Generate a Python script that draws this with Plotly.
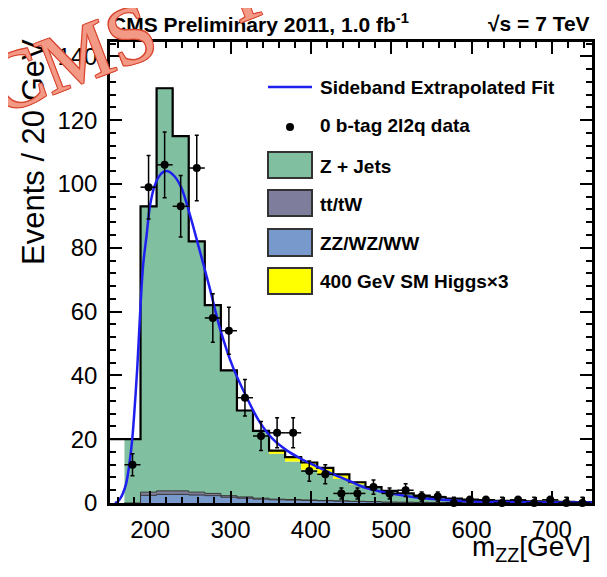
import numpy as np
import plotly.graph_objects as go

# ---------------- data ----------------
bin_edges = [168, 188, 208, 228, 248, 268, 288, 308, 328, 348, 368, 388, 408, 428, 448,
             468, 488, 508, 528, 548, 568, 588, 608, 628, 648, 668, 688, 708, 728, 748, 768]
zz_wz_ww = [0, 2.4, 2.7, 2.7, 2.5, 2.3, 1.8, 1.5, 1.2, 1.0, 0.9, 0.8, 0.7, 0.6, 0.5,
            0.4, 0.3, 0.25, 0.2, 0.15, 0.12, 0.1, 0.1, 0.1, 0.1, 0.08, 0.07, 0.07, 0.05, 0.05]
tt_tw = [0, 1.0, 1.1, 1.1, 0.9, 0.7, 0.5, 0.4, 0.3, 0.2, 0.2, 0.15, 0.1, 0.1, 0.05,
         0.05, 0, 0, 0, 0, 0, 0, 0, 0, 0, 0, 0, 0, 0, 0]
z_jets = [20, 89.6, 126.2, 111.2, 78.6, 59.0, 39.3, 27.1, 20.9, 14.2, 11.9, 9.45, 8.2, 6.8, 5.35,
          4.25, 3.4, 2.75, 2.1, 1.65, 1.28, 1.0, 0.8, 0.6, 0.5, 0.42, 0.33, 0.28, 0.25, 0.2]
higgs_x3 = [0, 0, 0, 0, 0, 0, 0, 0, 0.2, 1.0, 1.4, 2.3, 2.0, 1.5, 0.6,
            0.3, 0.1, 0, 0, 0, 0, 0, 0, 0, 0, 0, 0, 0, 0, 0]
outline_underflow_edge = 148
outline_underflow_value = 20

data_x = [178, 198, 218, 238, 258, 278, 298, 318, 338, 358, 378, 398, 418, 438, 458,
          478, 498, 518, 538, 558, 578, 598, 618, 638, 658, 678, 698, 718, 738]
data_n = [12, 99, 106, 93, 105, 58, 54, 33, 21, 22, 22, 10, 9, 3, 3,
          5, 3, 4, 2, 2, 0, 1, 1, 0, 1, 0, 1, 0, 0]

fit_x = [156, 160, 163, 166, 170, 174, 177.7, 181, 184, 188, 191.4, 195.6, 199.7, 205, 210,
         216, 222, 230, 239, 249.4, 261.8, 274, 286.6, 303, 319.8, 336, 352.8, 370, 386,
         406.7, 425, 448, 465, 485, 506, 527, 547, 568, 589, 620, 655, 700, 750]
fit_y = [0, 0.5, 1.5, 3, 6, 12, 20, 31, 42.6, 62, 75, 84, 93, 99, 102,
         103.7, 104, 102.5, 98.7, 90.4, 79, 67.5, 55, 42.6, 33.3, 25.5, 20, 16.5, 14.1,
         11.5, 9.3, 6.9, 5.0, 3.7, 2.7, 1.9, 1.35, 0.95, 0.65, 0.4, 0.28, 0.18, 0.12]

x_tick_vals = [200, 300, 400, 500, 600, 700]
y_tick_vals = [0, 20, 40, 60, 80, 100, 120, 140]

legend_labels = ["Sideband Extrapolated Fit", "0 b-tag 2l2q data", "Z + Jets",
                 "tt/tW", "ZZ/WZ/WW", "400 GeV SM Higgs\u00d73"]

# ---------------- style / layout ----------------
PAGE_OFF = 8                 # default body margin of the html page
FIG_W, FIG_H = 591, 561      # fits inside the 607x577 window with the body margin
L, R, T, B = 110, 592, 42, 503   # plot area in window pixels
FONT = "Liberation Sans, Arial, sans-serif"
C_GREEN = "#80c0a0"
C_TT = "#7e7e9c"
C_ZZ = "#7799cc"
C_HIGGS = "#ffff00"
C_FIT = "#1f1ff0"


def px(x):
    return (x - L) / (R - L)


def py(y):
    return (B - y) / (B - T)


def step_y(vals):
    return list(vals) + [vals[-1]]


fig = go.Figure()

layers = [(zz_wz_ww, C_ZZ, 1.0), (tt_tw, C_TT, 1.0), (z_jets, C_GREEN, 0.0), (higgs_x3, C_HIGGS, 1.0)]
for vals, col, lw in layers:
    fig.add_trace(go.Scatter(
        x=bin_edges, y=step_y(vals), mode="lines", line=dict(shape="hv", width=lw, color="#333333"),
        stackgroup="stack", fillcolor=col, hoverinfo="skip", showlegend=False))

total = np.array(zz_wz_ww) + np.array(tt_tw) + np.array(z_jets) + np.array(higgs_x3)
fig.add_trace(go.Scatter(
    x=[outline_underflow_edge] + bin_edges,
    y=[outline_underflow_value] + step_y(total.tolist()),
    mode="lines", line=dict(shape="hv", width=2.2, color="black"),
    hoverinfo="skip", showlegend=False))

fig.add_trace(go.Scatter(
    x=fit_x, y=fit_y, mode="lines", line=dict(shape="spline", color=C_FIT, width=2.5),
    showlegend=False))

n = np.array(data_n, dtype=float)
err_up = np.where(n > 0, np.sqrt(n), 1.84)
err_dn = np.sqrt(n)
fig.add_trace(go.Scatter(
    x=data_x, y=data_n, mode="markers",
    marker=dict(color="black", size=8),
    error_y=dict(type="data", array=err_up.tolist(), arrayminus=err_dn.tolist(),
                 color="black", thickness=1.5, width=2),
    error_x=dict(type="constant", value=10, color="black", thickness=1.5, width=0),
    cliponaxis=False, showlegend=False))

axis_common = dict(
    showline=True, linecolor="black", linewidth=2.5, mirror="ticks",
    ticks="inside", ticklen=12, tickwidth=2, tickcolor="black",
    showgrid=False, zeroline=False,
    tickfont=dict(family=FONT, size=24, color="black"),
)
fig.update_xaxes(range=[150, 750], tickvals=x_tick_vals,
                 minor=dict(dtick=20, tick0=0, ticks="inside", ticklen=6, tickwidth=2, tickcolor="black"),
                 ticklabelstandoff=3, **axis_common)
fig.update_yaxes(range=[0, 144.5], tickvals=y_tick_vals,
                 minor=dict(dtick=4, tick0=0, ticks="inside", ticklen=6, tickwidth=2, tickcolor="black"),
                 ticklabelstandoff=5, **axis_common)

shapes = []
annotations = []

# legend
leg_x0, leg_x1, text_x = 268, 312, 318
shapes.append(dict(type="line", xref="paper", yref="paper", x0=px(leg_x0), x1=px(leg_x1),
                   y0=py(87), y1=py(87), line=dict(color=C_FIT, width=2.5)))
shapes.append(dict(type="circle", xref="paper", yref="paper", x0=px(286), x1=px(294),
                   y0=py(123), y1=py(131), fillcolor="black", line=dict(width=0)))
box_rows = [(152, 178, C_GREEN), (190, 216, C_TT), (229, 256, C_ZZ), (268, 294, C_HIGGS)]
for y0, y1, col in box_rows:
    shapes.append(dict(type="rect", xref="paper", yref="paper", x0=px(leg_x0), x1=px(leg_x1),
                       y0=py(y1), y1=py(y0), fillcolor=col, line=dict(color="#333333", width=2)))
text_rows = [87, 126, 166, 204, 243, 281]
for lab, yy in zip(legend_labels, text_rows):
    annotations.append(dict(text="<b>%s</b>" % lab, xref="paper", yref="paper", x=px(text_x), y=py(yy),
                            xanchor="left", yanchor="middle", showarrow=False,
                            font=dict(family=FONT, size=19, color="black")))

# header texts
annotations.append(dict(text="<b>CMS Preliminary 2011, 1.0 fb<sup>-1</sup></b>", xref="paper", yref="paper",
                        x=px(109), y=py(23), xanchor="left", yanchor="middle", showarrow=False,
                        font=dict(family=FONT, size=21, color="black")))
annotations.append(dict(text="<b>\u221as = 7 TeV</b>", xref="paper", yref="paper",
                        x=px(592), y=py(23), xanchor="right", yanchor="middle", showarrow=False,
                        font=dict(family=FONT, size=21, color="black")))

# axis titles
annotations.append(dict(text="Events / 20 GeV", xref="paper", yref="paper", x=px(33), y=py(152),
                        xanchor="center", yanchor="middle", textangle=-90, showarrow=False,
                        font=dict(family=FONT, size=31, color="black")))
annotations.append(dict(text="m<sub>ZZ</sub>[GeV]", xref="paper", yref="paper", x=px(593), y=py(568),
                        xanchor="right", yanchor="bottom", showarrow=False,
                        font=dict(family=FONT, size=28, color="black")))

# watermark stamp
annotations.append(dict(text="CMS\u2003P", xref="paper", yref="paper", x=px(130), y=py(35),
                        xanchor="center", yanchor="middle", textangle=-21, showarrow=False,
                        font=dict(family="Liberation Serif, Times New Roman, serif", size=82, color="#f39a86",
                                  shadow="1px 1px 0 #d9452f, -1px -1px 0 #d9452f, 1px -1px 0 #d9452f, -1px 1px 0 #d9452f")))

fig.update_layout(
    width=FIG_W, height=FIG_H,
    margin=dict(l=L - PAGE_OFF, r=FIG_W - (R - PAGE_OFF), t=T - PAGE_OFF, b=FIG_H - (B - PAGE_OFF),
                autoexpand=False),
    plot_bgcolor="white", paper_bgcolor="white",
    shapes=shapes, annotations=annotations, showlegend=False,
)

fig.write_html("out.html")
